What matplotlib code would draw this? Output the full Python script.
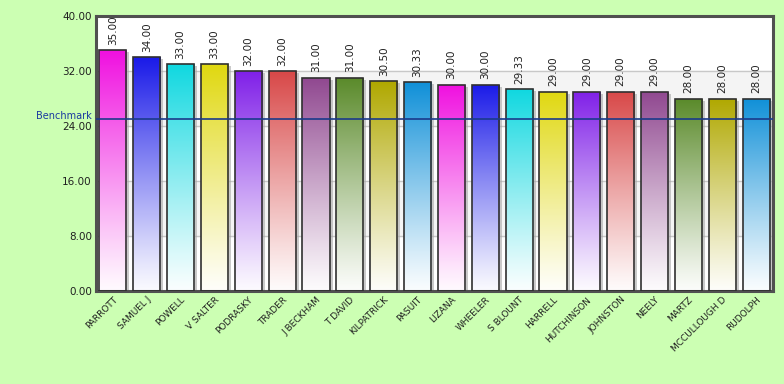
import matplotlib
matplotlib.use("Agg")
import matplotlib.pyplot as plt
import numpy as np
from matplotlib import transforms
from matplotlib.colors import to_rgb

names = ["PARROTT", "SAMUEL J", "POWELL", "V SALTER", "PODRASKY", "TRADER", "J BECKHAM",
         "T DAVID", "KILPATRICK", "PASUIT", "LIZANA", "WHEELER", "S BLOUNT", "HARRELL",
         "HUTCHINSON", "JOHNSTON", "NEELY", "MARTZ", "MCCULLOUGH D", "RUDOLPH"]
values = [35.00, 34.00, 33.00, 33.00, 32.00, 32.00, 31.00, 31.00, 30.50, 30.33,
          30.00, 30.00, 29.33, 29.00, 29.00, 29.00, 29.00, 28.00, 28.00, 28.00]
palette = ["#F010E0", "#1A1AE8", "#10D8E0", "#E0D810", "#8020E8",
           "#D84848", "#904890", "#5A8A2A", "#B0A800", "#1090D8"]
benchmark = 25.0
yticks = [0, 8, 16, 24, 32, 40]

fig = plt.figure(figsize=(7.84, 3.84), dpi=100)
fig.patch.set_facecolor("#CCFFB3")
ax = fig.add_axes([96/784, 1-291/384, (773-96)/784, (291-16)/384])
ax.set_facecolor("white")
ax.set_xlim(-0.5, len(names)-0.5)
ax.set_ylim(0, 40)

# alternating bands
for lo in [8, 24]:
    ax.axhspan(lo, lo+8, color="#F4F4F4", zorder=0)
for t in yticks[1:-1]:
    ax.axhline(t, color="#C8C8C8", lw=1, zorder=0.5)

x = np.arange(len(names))
w = 0.8
shadow_tr = transforms.offset_copy(ax.transData, fig=fig, x=3, y=-2, units="dots")
for i, v in enumerate(values):
    c = np.array(to_rgb(palette[i % len(palette)]))
    # shadow
    ax.bar(x[i], v, width=w, color="#A8A8A8", alpha=0.6, lw=0, zorder=1,
           transform=shadow_tr)
    # gradient
    n = 256
    tt = np.linspace(0, 1, n)[:, None]  # 0 bottom -> 1 top
    mix = 0.02 + 0.98 * tt ** 1.1
    img = (1 - mix) * np.ones(3) + mix * c
    img = img[:, None, :]
    im = ax.imshow(img, extent=[x[i]-w/2, x[i]+w/2, 0, v], origin="lower",
                   aspect="auto", zorder=2, interpolation="bilinear")
    b = ax.bar(x[i], v, width=w, facecolor="none", edgecolor="#303030", lw=1.2, zorder=3)
    im.set_clip_path(b.patches[0])
    ax.text(x[i], v + 0.8, f"{v:.2f}", rotation=90, ha="center", va="bottom",
            fontsize=7.5, color="#202020", zorder=4)

ax.set_xlim(-0.5, len(names)-0.5)
ax.set_ylim(0, 40)

ax.axhline(benchmark, color="#1A3A8A", lw=1.2, zorder=3.5)
ax.text(-0.006, benchmark + 0.45, "Benchmark", transform=ax.get_yaxis_transform(),
        ha="right", va="center", fontsize=7, color="#1A3AA0", zorder=5, clip_on=False)

ax.set_yticks(yticks)
ax.set_yticklabels([f"{t:.2f}" for t in yticks], fontsize=7.5, color="#202020")
ax.set_xticks(x)
ax.set_xticklabels(names, rotation=45, ha="right", rotation_mode="anchor",
                   fontsize=6.5, color="#202020")
ax.tick_params(length=0, pad=3)
for s in ax.spines.values():
    s.set_color("#505050")
    s.set_linewidth(2.2)

fig.savefig("out.png", dpi=100, facecolor=fig.get_facecolor())
